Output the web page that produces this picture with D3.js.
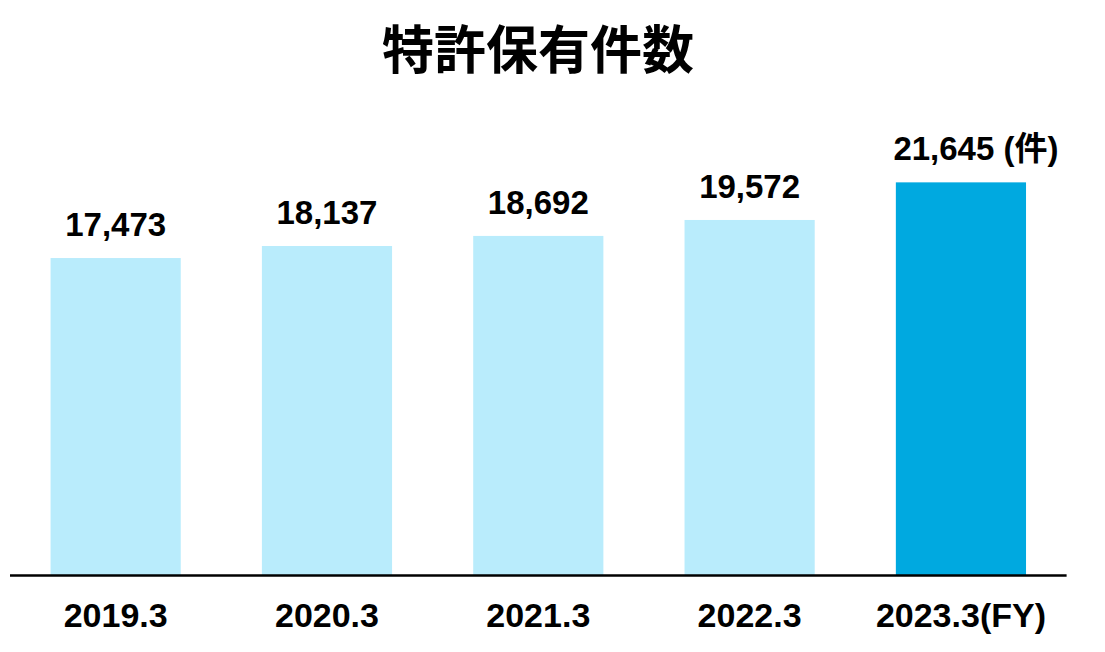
<!DOCTYPE html>
<html><head><meta charset="utf-8">
<script src="https://cdn.jsdelivr.net/npm/d3@7/dist/d3.min.js"></script>
<style>body{margin:0;background:#fff}svg{display:block}</style>
</head><body>
<script>
const categories = ["2019.3","2020.3","2021.3","2022.3","2023.3(FY)"];
const values = [17473, 18137, 18692, 19572, 21645];
const valueLabels = ["17,473","18,137","18,692","19,572","21,645 (件)"];
const title = "特許保有件数";

const W = 1105, H = 652;
const svg = d3.select("body").append("svg").attr("width", W).attr("height", H);
const x = d3.scaleBand().domain(categories).range([10, 1066.6]).paddingInner(0.384).paddingOuter(0.192);
const y = d3.scaleLinear().domain([0, 22000]).range([575, 575 - 22000 * 0.01814]);

svg.append("text").attr("x", 538).attr("y", 69).attr("text-anchor", "middle")
  .attr("font-family", "'Noto Sans CJK JP', sans-serif").attr("font-weight", "bold")
  .attr("font-size", 52).attr("fill", "#000").text(title);

svg.selectAll("rect.bar").data(values).join("rect").attr("class", "bar")
  .attr("x", (d, i) => x(categories[i])).attr("width", x.bandwidth())
  .attr("y", d => y(d)).attr("height", d => y(0) - y(d))
  .attr("fill", (d, i) => i === values.length - 1 ? "#00A9E0" : "#B9ECFC");

svg.selectAll("text.val").data(values).join("text").attr("class", "val")
  .attr("x", (d, i) => x(categories[i]) + x.bandwidth() / 2 + (i === values.length - 1 ? 15 : 0))
  .attr("y", d => y(d) - 22).attr("text-anchor", "middle")
  .attr("font-family", "'Liberation Sans', Arial, 'Noto Sans CJK JP', sans-serif").attr("font-weight", "bold")
  .attr("font-size", 33).attr("fill", "#000").text((d, i) => valueLabels[i]);

const axis = d3.axisBottom(x).tickSize(0).tickPadding(28);
const g = svg.append("g").attr("transform", `translate(0,${y(0)})`).call(axis);
g.select(".domain").attr("stroke", "#000").attr("stroke-width", 2.5).attr("d", "M10,0.5H1066.6");
g.selectAll("text").attr("font-family", "'Liberation Sans', Arial, sans-serif").attr("font-weight", "bold")
  .attr("font-size", 34).attr("fill", "#000");
</script>
</body></html>
